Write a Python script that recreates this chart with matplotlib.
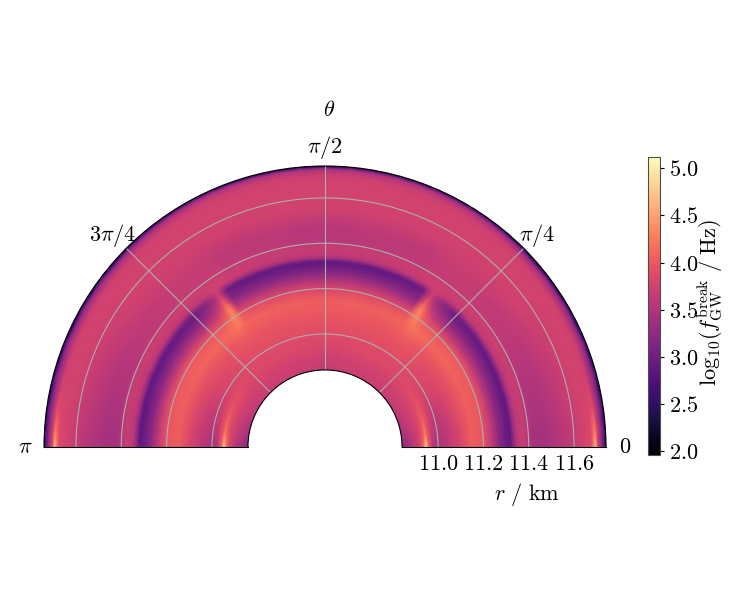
import numpy as np
import matplotlib
matplotlib.use('Agg')
import matplotlib.pyplot as plt

plt.rcParams['mathtext.fontset'] = 'cm'

##############################################
# Values
##############################################
r_km = [10.841, 10.87, 10.90, 10.925, 10.94, 10.948, 10.956, 10.975, 11.00, 11.05, 11.10,
        11.15, 11.20, 11.24, 11.27, 11.30, 11.32, 11.335, 11.35, 11.38, 11.42,
        11.47, 11.55, 11.63, 11.675, 11.685, 11.695, 11.705, 11.725, 11.735, 11.741]

# log10(f) along r, one list per angle
p00 = [3.20,3.40,3.60,3.85,4.30,4.95,4.20,3.55,3.42,3.60,3.80,4.05,3.97,3.58,3.22,2.98,2.88,3.30,3.58,3.68,3.42,3.42,3.55,3.72,3.85,4.20,4.75,3.85,3.15,2.80,2.35]
p03 = [3.28,3.44,3.62,3.85,4.20,4.60,4.10,3.60,3.45,3.62,3.82,4.05,3.97,3.58,3.22,2.98,2.88,3.30,3.58,3.68,3.42,3.42,3.55,3.72,3.85,4.05,4.30,3.78,3.15,2.80,2.35]
p08 = [3.40,3.52,3.67,3.85,4.05,4.28,4.00,3.67,3.52,3.65,3.85,4.05,3.97,3.58,3.22,2.98,2.88,3.30,3.58,3.68,3.45,3.45,3.58,3.74,3.80,3.86,3.88,3.65,3.15,2.80,2.35]
p15 = [3.50,3.60,3.72,3.85,3.98,4.08,3.96,3.75,3.60,3.70,3.88,4.05,3.98,3.58,3.22,2.98,2.88,3.30,3.60,3.70,3.50,3.50,3.62,3.76,3.76,3.75,3.72,3.55,3.20,2.80,2.35]
p22 = [3.56,3.65,3.75,3.85,3.93,3.98,3.92,3.80,3.70,3.76,3.90,4.05,3.99,3.60,3.24,3.00,2.89,3.28,3.60,3.70,3.54,3.54,3.66,3.76,3.76,3.75,3.72,3.58,3.25,2.80,2.35]
p30 = [3.62,3.68,3.76,3.83,3.88,3.90,3.88,3.83,3.78,3.83,3.93,4.08,4.00,3.60,3.26,3.00,2.90,3.25,3.62,3.72,3.58,3.58,3.70,3.76,3.76,3.75,3.72,3.60,3.30,2.85,2.35]
p37 = [3.66,3.70,3.76,3.81,3.85,3.86,3.86,3.85,3.83,3.86,3.95,4.10,4.00,3.60,3.28,3.02,2.94,3.25,3.62,3.72,3.62,3.62,3.74,3.76,3.76,3.75,3.72,3.62,3.32,2.85,2.35]
p45 = [3.68,3.71,3.76,3.80,3.83,3.84,3.84,3.85,3.86,3.90,3.97,4.12,3.98,3.60,3.30,3.06,2.98,3.22,3.62,3.72,3.65,3.66,3.75,3.76,3.76,3.75,3.72,3.64,3.35,2.90,2.35]
p50 = [3.68,3.71,3.76,3.80,3.83,3.84,3.84,3.85,3.88,3.93,4.00,4.15,4.02,3.70,3.46,3.28,3.20,3.38,3.66,3.72,3.65,3.66,3.75,3.76,3.76,3.75,3.72,3.64,3.38,2.90,2.35]
p53 = [3.68,3.71,3.76,3.80,3.83,3.84,3.84,3.85,3.88,3.93,4.03,4.20,4.15,3.95,3.70,3.50,3.44,3.56,3.70,3.72,3.65,3.66,3.75,3.76,3.76,3.75,3.72,3.64,3.40,2.90,2.35]
p55 = [3.68,3.71,3.76,3.80,3.83,3.84,3.84,3.85,3.88,3.93,4.03,4.20,4.35,4.30,4.10,3.85,3.75,3.72,3.72,3.72,3.65,3.66,3.75,3.76,3.76,3.75,3.72,3.66,3.42,2.92,2.35]
p56 = [3.68,3.71,3.76,3.80,3.83,3.84,3.84,3.85,3.88,3.93,4.03,4.15,4.22,4.18,3.88,3.60,3.50,3.58,3.72,3.72,3.65,3.66,3.75,3.76,3.76,3.75,3.72,3.66,3.42,2.92,2.35]
p58 = [3.68,3.71,3.76,3.80,3.83,3.84,3.84,3.85,3.88,3.93,4.00,4.10,3.95,3.50,3.20,3.04,2.98,3.35,3.70,3.72,3.64,3.64,3.75,3.76,3.76,3.75,3.72,3.66,3.44,2.95,2.35]
p62 = [3.68,3.71,3.76,3.80,3.83,3.84,3.84,3.85,3.88,3.93,4.00,4.08,3.88,3.48,3.20,3.00,2.92,3.35,3.64,3.70,3.60,3.60,3.75,3.76,3.76,3.75,3.72,3.68,3.46,3.00,2.35]
p70 = [3.68,3.71,3.75,3.79,3.82,3.83,3.84,3.85,3.88,3.93,4.00,4.05,3.85,3.48,3.20,2.98,2.90,3.38,3.62,3.68,3.58,3.58,3.75,3.76,3.76,3.75,3.72,3.68,3.50,3.00,2.35]
p90 = [3.65,3.68,3.72,3.76,3.80,3.81,3.82,3.84,3.88,3.93,4.00,4.03,3.82,3.48,3.20,2.98,2.89,3.40,3.62,3.67,3.55,3.56,3.75,3.76,3.76,3.75,3.72,3.68,3.50,3.00,2.35]

theta_deg = [0, 3, 8, 15, 22, 30, 37, 45, 50, 53, 55, 56, 58, 62, 66, 70, 75, 80, 85, 90]
theta_rows = [p00, p03, p08, p15, p22, p30, p37, p45, p50, p53, p55, p56, p58, p62, p62, p70, p70, p70, p90, p90]

r_ticks = [11.0, 11.2, 11.4, 11.6]
r_tick_labels = ['$11.0$', '$11.2$', '$11.4$', '$11.6$']
theta_ticks = [0, 45, 90, 135, 180]
theta_tick_labels = ['$0$', r'$\pi/4$', r'$\pi/2$', r'$3\pi/4$', r'$\pi$']
cbar_ticks = [2.0, 2.5, 3.0, 3.5, 4.0, 4.5, 5.0]
cbar_tick_labels = ['$2.0$', '$2.5$', '$3.0$', '$3.5$', '$4.0$', '$4.5$', '$5.0$']

##############################################
# The lower half of the angle range mirrors the upper one
##############################################
half = np.array(theta_rows)
th = np.deg2rad(theta_deg + [180 - t for t in theta_deg[-2::-1]])
vals = np.vstack([half, half[-2::-1]])

fig = plt.figure(figsize=(7.47, 6.12), dpi=100)
# polar wedge sits centred inside a square axes box
ax = fig.add_axes([44/747, (612-587.5)/612, 562/747, 562/612], projection='polar')
mesh = ax.pcolormesh(th, r_km, vals.T, shading='gouraud', cmap='magma', vmin=1.958, vmax=5.124)

ax.set_thetamin(0)
ax.set_thetamax(180)
ax.set_rorigin(10.501)
ax.set_rlim(10.841, 11.741)

ax.grid(True, color='0.68', linewidth=0.8)
ax.set_xticks(np.deg2rad(theta_ticks))
ax.set_xticklabels(theta_tick_labels)
ax.set_yticks(r_ticks)
ax.set_yticklabels(r_tick_labels)
ax.tick_params(axis='x', pad=3, labelsize=16)
ax.tick_params(axis='y', length=0, pad=5, labelsize=16)

fig.text(329/747, 1-110/612, r'$\theta$', fontsize=16, ha='center', va='center')
fig.text(527/747, 1-494/612, r'$r\ /\ \mathrm{km}$', fontsize=16, ha='center', va='center')

cax = fig.add_axes([648.3/747, (612-455)/612, 11.7/747, 298.3/612])
cb = fig.colorbar(mesh, cax=cax)
cb.set_ticks(cbar_ticks, labels=cbar_tick_labels)
cb.ax.tick_params(labelsize=16, length=3)
cb.outline.set_edgecolor('0.3')
cb.set_label(r'$\mathrm{log}_{10}(f_{\rm GW}^{\rm break}\ /\ {\rm Hz})$', fontsize=16)
cb.ax.yaxis.set_label_coords(4.0, 0.51)

fig.savefig('out.png', dpi=100)
